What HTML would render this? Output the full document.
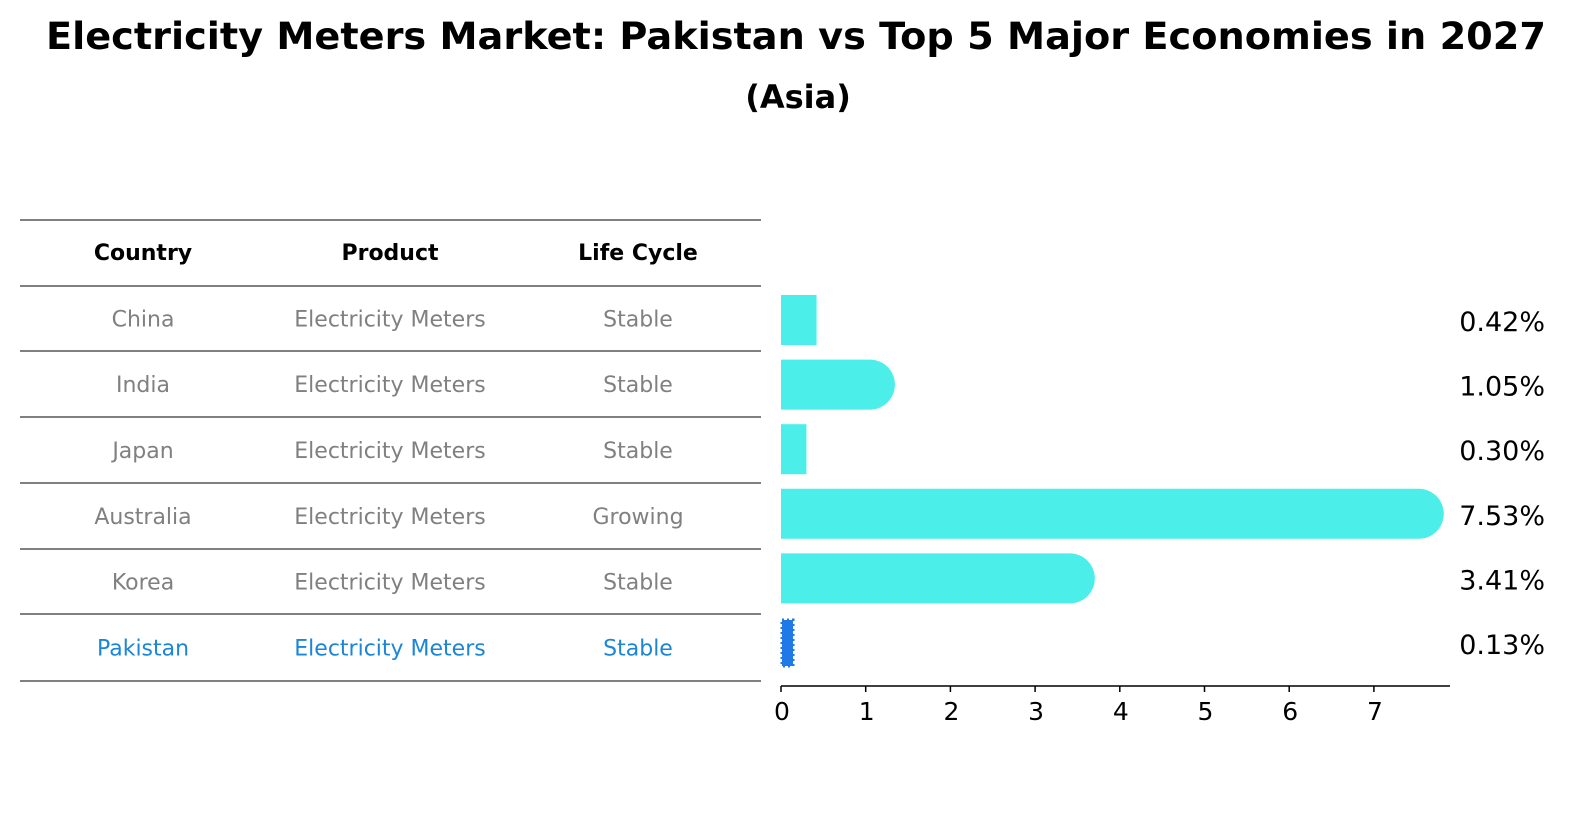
<!DOCTYPE html>
<html><head><meta charset="utf-8"><style>
body{margin:0;background:#fff;font-family:"Liberation Sans","DejaVu Sans",sans-serif;}
</style></head><body>
<svg width="1589" height="823" xmlns="http://www.w3.org/2000/svg" font-family="DejaVu Sans, Liberation Sans, sans-serif">
<text x="796" y="49" text-anchor="middle" font-size="37" font-weight="bold" textLength="1500" lengthAdjust="spacingAndGlyphs">Electricity Meters Market: Pakistan vs Top 5 Major Economies in 2027</text>
<text x="798" y="108" text-anchor="middle" font-size="32" font-weight="bold">(Asia)</text>
<g id="table"></g>
<g id="bars"></g>
</svg>
<script>
const countries=["China","India","Japan","Australia","Korea","Pakistan"];
const products=["Electricity Meters","Electricity Meters","Electricity Meters","Electricity Meters","Electricity Meters","Electricity Meters"];
const lifecycles=["Stable","Stable","Stable","Growing","Stable","Stable"];
const values=[0.42,1.05,0.30,7.53,3.41,0.13];
const labels=["0.42%","1.05%","0.30%","7.53%","3.41%","0.13%"];
const ticks=[0,1,2,3,4,5,6,7];
const NS="http://www.w3.org/2000/svg";
function mk(t,a,p){const e=document.createElementNS(NS,t);for(const k in a)e.setAttribute(k,a[k]);p.appendChild(e);return e;}
const tb=document.getElementById('table'), bg=document.getElementById('bars');
const lineY=[220,286,351,417,483,549,614,681];
lineY.forEach(y=>{const l=mk('line',{x1:20,x2:761,y1:y,y2:y,stroke:'#000','stroke-width':1},tb);

});
const colX=[143,390,638];
["Country","Product","Life Cycle"].forEach((h,i)=>{const t=mk('text',{x:colX[i],y:260,'text-anchor':'middle','font-size':22,'font-weight':'bold'},tb);t.textContent=h;

});
const X0=781, PX=84.7;
const xs=v=>X0+v*PX;
const rowY=i=>320+i*64.6;
countries.forEach((c,i)=>{
 const cy=(lineY[i+1]+lineY[i+2])/2+8;
 const col=c==="Pakistan"?'#1a86d8':'#808080';
 [c,products[i],lifecycles[i]].forEach((s,j)=>{const t=mk('text',{x:colX[j],y:cy,'text-anchor':'middle','font-size':22,fill:col},tb);t.textContent=s;
 
 });
 const y=rowY(i), h=50, w=xs(values[i])-X0;
 let b;
 if(c==="Pakistan"){
  b=mk('rect',{x:X0+1,y:y-h/2+2,width:Math.max(w,10),height:h-4,fill:'#1f7ae8',stroke:'#1f7ae8','stroke-width':3,'stroke-dasharray':'2 3'},bg);
 } else if(values[i]>=1){
  b=mk('path',{d:`M${X0},${y-h/2}H${X0+w}A${h/2},${h/2} 0 0 1 ${X0+w},${y+h/2}H${X0}Z`,fill:'#4beee8'},bg);
 } else {
  b=mk('rect',{x:X0,y:y-h/2,width:w,height:h,fill:'#4beee8'},bg);
 }
 
 
 const t=mk('text',{x:1545,y:y+11,'text-anchor':'end','font-size':27},bg);t.textContent=labels[i];
 
 
});
const ax=mk('line',{x1:X0,x2:1450,y1:686,y2:686,stroke:'#000','stroke-width':1.5},bg);


ticks.forEach(v=>{const l=mk('line',{x1:xs(v),x2:xs(v),y1:686,y2:692,stroke:'#000','stroke-width':1.5},bg);


const t=mk('text',{x:xs(v)+1,y:720,'text-anchor':'middle','font-size':25},bg);t.textContent=v;

});
</script>
</body></html>
